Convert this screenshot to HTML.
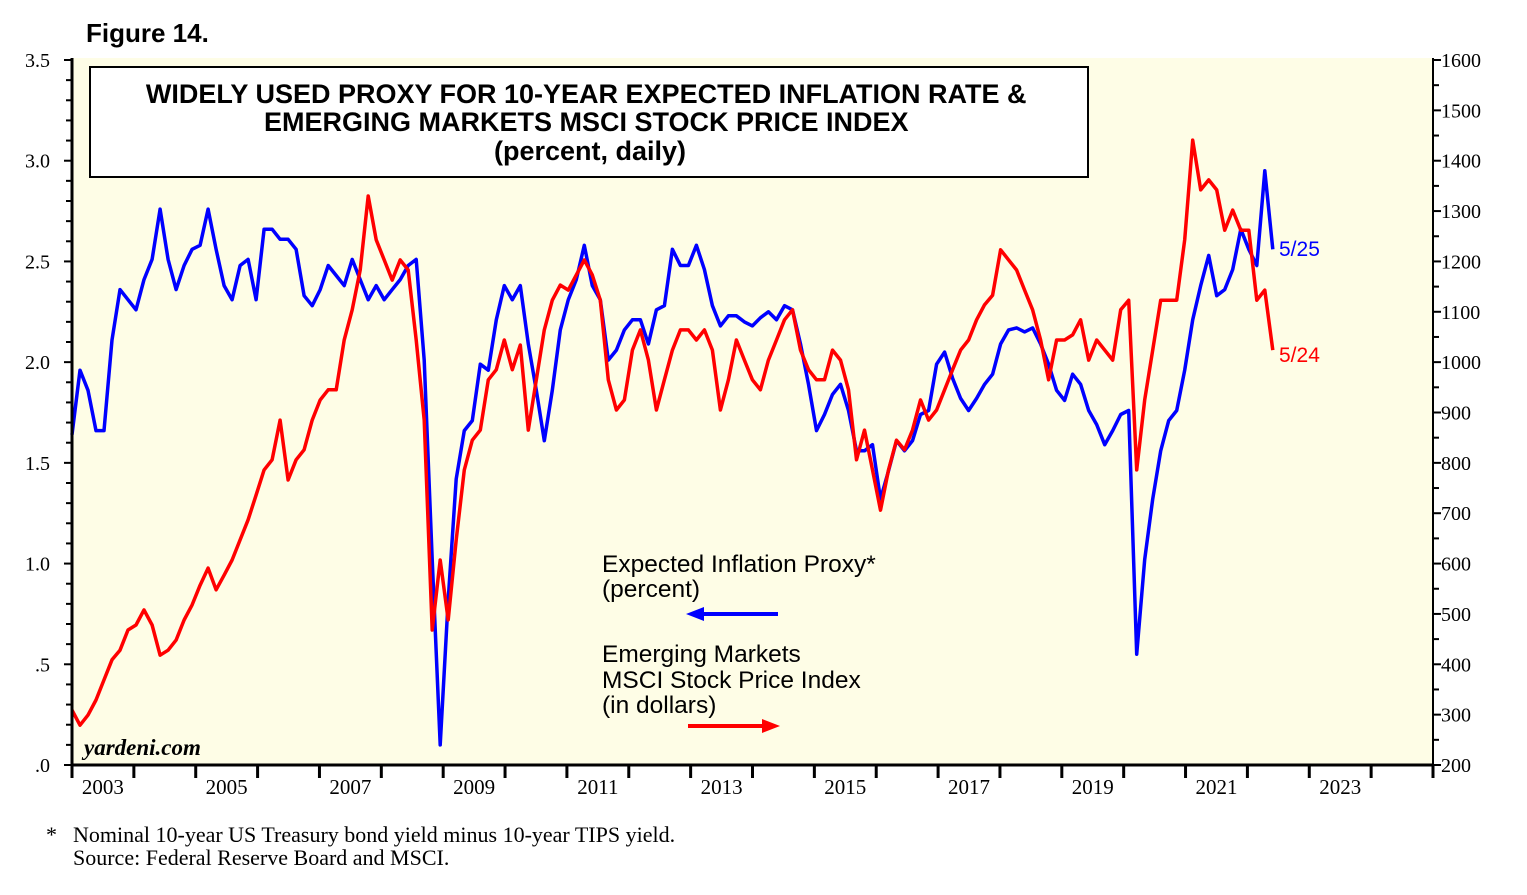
<!DOCTYPE html>
<html><head><meta charset="utf-8"><style>
html,body{margin:0;padding:0;background:#fff;}
svg{display:block;}
.serif{font-family:"Liberation Serif",serif;}
.sans{font-family:"Liberation Sans",sans-serif;}
</style></head><body>
<svg id="chart" width="1527" height="895" viewBox="0 0 1527 895" xmlns="http://www.w3.org/2000/svg">
<rect x="72" y="58" width="1361" height="707" fill="#fefde6"/>
<g id="grid"></g>
<g id="series"></g>
<g id="axes"></g>
<text x="86" y="42" class="sans" font-size="26" font-weight="bold">Figure 14.</text>
<rect x="90" y="67" width="998" height="110" fill="#fff" stroke="#000" stroke-width="2"/>
<text class="sans" font-size="27" font-weight="bold" text-anchor="middle">
<tspan x="590" y="103">WIDELY USED PROXY FOR 10-YEAR EXPECTED INFLATION RATE &amp;</tspan>
<tspan x="590" y="131">EMERGING MARKETS MSCI STOCK PRICE INDEX</tspan>
<tspan x="590" y="160">(percent, daily)</tspan></text>
<text x="602" y="572" class="sans" font-size="24.5">Expected Inflation Proxy*</text>
<text x="602" y="597" class="sans" font-size="24.5">(percent)</text>
<g><line x1="778" y1="614" x2="700" y2="614" stroke="#0000ff" stroke-width="4"/><polygon points="686,614 704,607 704,621" fill="#0000ff"/></g>
<text x="602" y="662" class="sans" font-size="24.5">Emerging Markets</text>
<text x="602" y="688" class="sans" font-size="24.5">MSCI Stock Price Index</text>
<text x="602" y="713" class="sans" font-size="24.5">(in dollars)</text>
<g><line x1="688" y1="726" x2="766" y2="726" stroke="#ff0000" stroke-width="4"/><polygon points="780,726 762,719 762,733" fill="#ff0000"/></g>
<text x="1279" y="256" class="sans" font-size="21" fill="#0000ff">5/25</text>
<text x="1279" y="362" class="sans" font-size="21" fill="#ff0000">5/24</text>
<text x="84" y="755" class="serif" font-size="23" font-style="italic" font-weight="bold">yardeni.com</text>
<text x="46" y="842" class="serif" font-size="22">*</text>
<text x="73" y="842" class="serif" font-size="22">Nominal 10-year US Treasury bond yield minus 10-year TIPS yield.</text>
<text x="73" y="865" class="serif" font-size="22">Source: Federal Reserve Board and MSCI.</text>
</svg>
<script>
const leftTicks = [".0", ".5", "1.0", "1.5", "2.0", "2.5", "3.0", "3.5"];
const rightTicks = ["200","300","400","500","600","700","800","900","1000","1100","1200","1300","1400","1500","1600"];
const yearLabels = ["2003","2005","2007","2009","2011","2013","2015","2017","2019","2021","2023"];
const startYear = 2003.0;
const stepYear = 0.1294;
const inflation = [1.64,1.96,1.86,1.66,1.66,2.11,2.36,2.31,2.26,2.41,2.51,2.76,2.51,2.36,2.48,2.56,2.58,2.76,2.56,2.38,2.31,2.48,2.51,2.31,2.66,2.66,2.61,2.61,2.56,2.33,2.28,2.36,2.48,2.43,2.38,2.51,2.41,2.31,2.38,2.31,2.36,2.41,2.48,2.51,2.01,1.02,0.10,0.82,1.42,1.66,1.71,1.99,1.96,2.21,2.38,2.31,2.38,2.09,1.86,1.61,1.86,2.16,2.31,2.41,2.58,2.38,2.31,2.01,2.06,2.16,2.21,2.21,2.09,2.26,2.28,2.56,2.48,2.48,2.58,2.46,2.28,2.18,2.23,2.23,2.20,2.18,2.22,2.25,2.21,2.28,2.26,2.09,1.89,1.66,1.74,1.84,1.89,1.76,1.56,1.56,1.59,1.32,1.46,1.61,1.56,1.61,1.74,1.76,1.99,2.05,1.92,1.82,1.76,1.82,1.89,1.94,2.09,2.16,2.17,2.15,2.17,2.09,1.99,1.86,1.81,1.94,1.89,1.76,1.69,1.59,1.66,1.74,1.76,0.55,1.02,1.32,1.56,1.71,1.76,1.96,2.21,2.38,2.53,2.33,2.36,2.46,2.66,2.56,2.48,2.95,2.56];
const msci = [309,279,299,329,369,409,428,468,478,508,478,418,428,448,488,518,557,591,548,577,607,647,687,736,786,806,885,766,806,826,885,925,945,945,1044,1104,1183,1330,1243,1203,1163,1203,1183,1044,885,468,607,488,647,786,845,865,965,985,1044,985,1034,865,965,1064,1123,1153,1143,1173,1203,1173,1123,965,905,925,1024,1064,1004,905,965,1024,1064,1064,1044,1064,1024,905,965,1044,1004,965,945,1004,1044,1084,1104,1024,985,965,965,1024,1004,945,806,865,786,706,786,845,826,865,925,885,905,945,985,1024,1044,1084,1114,1133,1223,1203,1183,1143,1104,1044,965,1044,1044,1054,1084,1004,1044,1024,1004,1104,1123,786,925,1024,1123,1123,1123,1243,1441,1342,1362,1342,1262,1302,1262,1262,1123,1143,1024];

const X0=72, X1=1433, Y0=765, Y1=60;
const xOf = t => X0 + (t-2003)*(X1-X0)/22;
const yL = v => Y0 - v*(Y0-Y1)/3.5;
const yR = v => Y0 - (v-200)*(Y0-Y1)/1400;
const NS="http://www.w3.org/2000/svg";
function mk(tag, attrs, parent){const e=document.createElementNS(NS,tag);for(const k in attrs)e.setAttribute(k,attrs[k]);parent.appendChild(e);return e;}
const axes=document.getElementById('axes'), series=document.getElementById('series');

function drawLine(vals, yfn, color, name){
  let d='';
  vals.forEach((v,i)=>{const t=startYear+i*stepYear; d+=(i?'L':'M')+xOf(t).toFixed(1)+','+yfn(v).toFixed(1);});
  const p=mk('path',{d:d,fill:'none',stroke:color,'stroke-width':3.5,'stroke-linejoin':'round'},series);
  
  
}
drawLine(inflation, yL, '#0000ff', 'inflation-proxy-line');
drawLine(msci, yR, '#ff0000', 'msci-em-line');

const la=mk('line',{x1:X0,y1:58,x2:X0,y2:Y0+1.5,stroke:'#000','stroke-width':3},axes);


const ra=mk('line',{x1:X1,y1:58,x2:X1,y2:Y0+1.5,stroke:'#000','stroke-width':2},axes);


const ba=mk('line',{x1:X0-1.5,y1:Y0,x2:X1+1,y2:Y0,stroke:'#000','stroke-width':3},axes);



for(let i=0;i<=35;i++){
  const y=yL(i/10);
  mk('line',{x1:X0-(i%5===0?8:6),y1:y,x2:X0,y2:y,stroke:'#000','stroke-width':2},axes);
}
leftTicks.forEach((s,i)=>{
  const t=mk('text',{x:50,y:yL(i*0.5)+7,'text-anchor':'end','font-size':20,class:'serif'},axes);
  t.textContent=s;
  
  
});
for(let v=200;v<=1600;v+=50){
  const y=yR(v);
  mk('line',{x1:X1,y1:y,x2:X1+(v%100===0?8:6),y2:y,stroke:'#000','stroke-width':2},axes);
}
rightTicks.forEach(s=>{
  const t=mk('text',{x:1441,y:yR(+s)+7,'font-size':20,class:'serif'},axes);
  t.textContent=s;
  
  
});
for(let yr=2003;yr<=2025;yr++){
  const x=xOf(yr);
  mk('line',{x1:x,y1:Y0,x2:x,y2:Y0+13,stroke:'#000','stroke-width':3},axes);
}
yearLabels.forEach(s=>{
  const t=mk('text',{x:xOf(+s+0.5),y:794,'text-anchor':'middle','font-size':21,class:'serif'},axes);
  t.textContent=s;
  
  
});
</script>
</body></html>
